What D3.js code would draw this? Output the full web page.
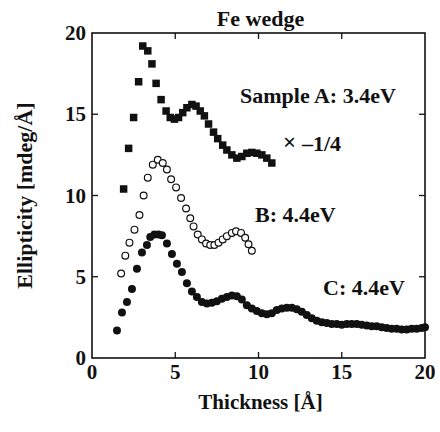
<!DOCTYPE html>
<html>
<head>
<meta charset="utf-8">
<script src="https://cdn.jsdelivr.net/npm/d3@7"></script>
<style>
  body { margin: 0; background: #fff; }
  text { font-family: "Liberation Serif", "Times New Roman", serif; font-weight: bold; fill: #111; }
</style>
</head>
<body>
<script>
// ----- data -----
const xTicks = [0, 5, 10, 15, 20];
const yTicks = [0, 5, 10, 15, 20];

// Sample A: 3.4eV (scaled by -1/4), filled squares
const sampleA = [
  [1.9, 10.4], [2.2, 12.9], [2.5, 14.8], [2.8, 17.0], [3.05, 19.2], [3.35, 18.9],
  [3.6, 18.1], [3.85, 16.9], [4.15, 15.9], [4.45, 15.2], [4.7, 14.8], [4.95, 14.7],
  [5.2, 14.8], [5.45, 15.1], [5.7, 15.4], [6.0, 15.6], [6.25, 15.5], [6.5, 15.2],
  [6.75, 14.9], [7.0, 14.4], [7.3, 13.9], [7.55, 13.5], [7.85, 13.1], [8.1, 12.8],
  [8.4, 12.5], [8.7, 12.3], [9.0, 12.4], [9.3, 12.6], [9.6, 12.65], [9.9, 12.6],
  [10.2, 12.5], [10.5, 12.3], [10.8, 12.0]
];

// Sample B: 4.4eV, open circles
const sampleB = [
  [1.75, 5.2], [2.0, 6.3], [2.25, 7.1], [2.55, 7.9], [2.85, 8.8], [3.1, 10.0],
  [3.35, 11.1], [3.65, 11.9], [3.95, 12.2], [4.25, 12.0], [4.5, 11.6], [4.75, 11.0],
  [5.05, 10.5], [5.35, 9.85], [5.65, 9.2], [5.9, 8.6], [6.1, 8.1], [6.35, 7.6],
  [6.6, 7.3], [6.85, 7.05], [7.1, 6.95], [7.35, 6.95], [7.6, 7.1], [7.85, 7.3],
  [8.1, 7.5], [8.4, 7.7], [8.65, 7.8], [8.95, 7.7], [9.2, 7.4], [9.4, 7.0], [9.6, 6.6]
];

// Sample C: 4.4eV, filled circles
const sampleC = [
  [1.5, 1.7], [1.8, 2.8], [2.1, 3.45], [2.4, 4.25], [2.7, 5.5], [3.0, 6.5],
  [3.3, 6.95], [3.5, 7.45], [3.75, 7.6], [4.0, 7.6], [4.2, 7.55], [4.5, 7.05],
  [4.8, 6.4], [5.1, 5.8], [5.4, 5.3], [5.7, 4.6], [6.0, 4.1], [6.3, 3.75],
  [6.6, 3.45], [6.9, 3.35], [7.2, 3.4], [7.5, 3.5], [7.8, 3.65], [8.1, 3.75],
  [8.4, 3.85], [8.7, 3.8], [9.0, 3.6], [9.3, 3.25], [9.6, 3.05], [9.9, 2.9],
  [10.2, 2.75], [10.5, 2.7], [10.8, 2.75], [11.1, 2.95], [11.4, 3.05], [11.7, 3.1],
  [12.0, 3.1], [12.3, 3.0], [12.6, 2.85], [12.9, 2.65], [13.2, 2.45], [13.5, 2.3],
  [13.8, 2.2], [14.1, 2.15], [14.4, 2.1], [14.7, 2.1], [15.0, 2.05], [15.3, 2.1],
  [15.6, 2.1], [15.9, 2.1], [16.2, 2.05], [16.5, 2.0], [16.8, 1.95], [17.1, 1.95],
  [17.4, 1.9], [17.7, 1.85], [18.0, 1.8], [18.3, 1.8], [18.6, 1.75], [18.9, 1.75],
  [19.2, 1.8], [19.5, 1.8], [19.8, 1.85], [20.0, 1.9]
];

// ----- layout -----
const W = 440, H = 432;
const plotL = 92, plotR = 425, plotT = 33, plotB = 358;

const x = d3.scaleLinear().domain([0, 20]).range([plotL, plotR]);
const y = d3.scaleLinear().domain([0, 20]).range([plotB, plotT]);

const svg = d3.select("body").append("svg")
  .attr("width", W).attr("height", H);

// frame
svg.append("rect")
  .attr("x", plotL).attr("y", plotT)
  .attr("width", plotR - plotL).attr("height", plotB - plotT)
  .attr("fill", "none").attr("stroke", "#111").attr("stroke-width", 1.6);

// inward ticks on all four sides
const tickLen = 6;
const inner = [5, 10, 15];
inner.forEach(v => {
  svg.append("line").attr("x1", x(v)).attr("x2", x(v)).attr("y1", plotB).attr("y2", plotB - tickLen)
    .attr("stroke", "#111").attr("stroke-width", 1.3);
  svg.append("line").attr("x1", x(v)).attr("x2", x(v)).attr("y1", plotT).attr("y2", plotT + tickLen)
    .attr("stroke", "#111").attr("stroke-width", 1.3);
  svg.append("line").attr("y1", y(v)).attr("y2", y(v)).attr("x1", plotL).attr("x2", plotL + tickLen)
    .attr("stroke", "#111").attr("stroke-width", 1.3);
  svg.append("line").attr("y1", y(v)).attr("y2", y(v)).attr("x1", plotR).attr("x2", plotR - tickLen)
    .attr("stroke", "#111").attr("stroke-width", 1.3);
});

// tick labels
svg.selectAll(".xlab").data(xTicks).enter().append("text")
  .attr("class", "xlab")
  .attr("x", d => x(d)).attr("y", 379)
  .attr("text-anchor", "middle").attr("font-size", 21)
  .text(d => d);

svg.selectAll(".ylab").data(yTicks).enter().append("text")
  .attr("class", "ylab")
  .attr("x", 86).attr("y", d => y(d) + 7)
  .attr("text-anchor", "end").attr("font-size", 21)
  .text(d => d);

// axis titles
svg.append("text")
  .attr("x", (plotL + plotR) / 2 + 2).attr("y", 409)
  .attr("text-anchor", "middle").attr("font-size", 21)
  .text("Thickness [Å]");

svg.append("text")
  .attr("transform", "translate(32," + ((plotT + plotB) / 2) + ") rotate(-90)")
  .attr("text-anchor", "middle").attr("font-size", 22)
  .text("Ellipticity [mdeg/Å]");

svg.append("text")
  .attr("x", (plotL + plotR) / 2 + 2).attr("y", 26)
  .attr("text-anchor", "middle").attr("font-size", 22)
  .text("Fe wedge");

// ----- data points -----
const sq = 7.5;
svg.selectAll(".ptA").data(sampleA).enter().append("rect")
  .attr("class", "ptA")
  .attr("x", d => x(d[0]) - sq / 2).attr("y", d => y(d[1]) - sq / 2)
  .attr("width", sq).attr("height", sq)
  .attr("fill", "#111");

svg.selectAll(".ptB").data(sampleB).enter().append("circle")
  .attr("class", "ptB")
  .attr("cx", d => x(d[0])).attr("cy", d => y(d[1]))
  .attr("r", 3.4)
  .attr("fill", "#fff").attr("stroke", "#111").attr("stroke-width", 1.2);

svg.selectAll(".ptC").data(sampleC).enter().append("circle")
  .attr("class", "ptC")
  .attr("cx", d => x(d[0])).attr("cy", d => y(d[1]))
  .attr("r", 4)
  .attr("fill", "#111");

// ----- annotations -----
svg.append("text").attr("x", 240).attr("y", 103).attr("font-size", 22).text("Sample A: 3.4eV");
svg.append("text").attr("x", 283).attr("y", 150).attr("font-size", 23)
  .attr("font-weight", "normal").text("×");
svg.append("text").attr("x", 302).attr("y", 151).attr("font-size", 22).text("–1/4");
svg.append("text").attr("x", 255).attr("y", 222).attr("font-size", 22).text("B: 4.4eV");
svg.append("text").attr("x", 323).attr("y", 295).attr("font-size", 22).text("C: 4.4eV");
</script>
</body>
</html>
